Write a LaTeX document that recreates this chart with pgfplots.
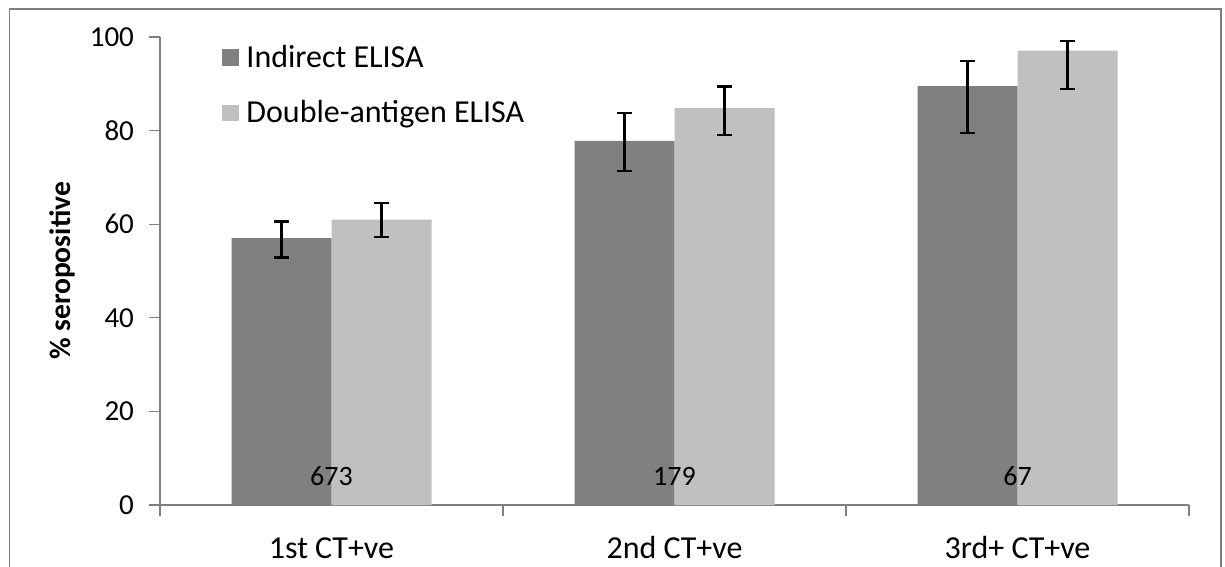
\documentclass[border=0pt]{standalone}
\usepackage{pgfplots}
\usepackage{pgfplotstable}
\pgfplotsset{compat=1.18}
\usepackage{fontspec}
\setmainfont{Carlito}
\definecolor{darkbar}{HTML}{808080}
\definecolor{lightbar}{HTML}{C0C0C0}
\definecolor{framegray}{HTML}{7F7F7F}

\pgfplotstableread{
x y ep em
0 57.0 3.6 4.1
1 77.8 6.0 6.4
2 89.5 5.4 10.0
}\indirect

\pgfplotstableread{
x y ep em
0 61.0 3.5 3.7
1 84.8 4.6 5.7
2 97.1 2.1 8.2
}\double

\begin{document}
\begin{tikzpicture}
\useasboundingbox (0,0) rectangle (612.5pt,283.5pt);
\draw[framegray, line width=0.7pt] (4.6pt,-5pt) rectangle (610.4pt,278.9pt);
\begin{axis}[
  at={(80pt,31pt)}, anchor=south west,
  scale only axis, width=514.5pt, height=234pt,
  xmin=-0.5, xmax=2.5, ymin=0, ymax=100,
  axis x line*=bottom, axis y line*=left,
  axis line style={draw=framegray, line width=0.6pt, -},
  ytick={0,20,40,60,80,100},
  xtick={-0.5,0.5,1.5,2.5}, xticklabels={},
  extra x ticks={0,1,2},
  extra x tick labels={1st CT+ve, 2nd CT+ve, 3rd+ CT+ve},
  extra x tick style={major tick length=0pt},
  tick align=outside, major tick length=5.5pt,
  tick style={draw=framegray, line width=0.6pt},
  /pgf/number format/assume math mode=true,
  yticklabel style={font=\fontsize{14.5}{16}\selectfont, xshift=-4pt},
  xticklabel style={font=\fontsize{16}{18}\selectfont, text height=11.3pt, text depth=3pt, yshift=-12pt},
  ylabel={\textbf{\% seropositive}},
  ylabel style={font=\fontsize{14.8}{16}\selectfont, at={(axis description cs:-0.0952,0.5)}, anchor=center},
  ybar=0pt, bar width=50pt,
  legend style={draw=none, fill=none, at={(0.0603,0.992)}, anchor=north west,
    font=\fontsize{16}{18}\selectfont, row sep=11pt, inner sep=0pt,
    nodes={inner xsep=3.5pt}},
  legend cell align=left,
  legend image code/.code={\fill[#1] (0pt,-4.2pt) rectangle (8.5pt,4.2pt);},
]
\addplot[fill=darkbar, draw=none,
  error bars/.cd, y dir=both, y explicit,
  error bar style={draw=black, solid, line width=1.1pt},
  error mark options={rotate=90, draw=black, solid, mark size=3.6pt, line width=1.2pt}]
  table[x=x, y=y, y error plus=ep, y error minus=em]{\indirect};
\addplot[fill=lightbar, draw=none,
  error bars/.cd, y dir=both, y explicit,
  error bar style={draw=black, solid, line width=1.1pt},
  error mark options={rotate=90, draw=black, solid, mark size=3.6pt, line width=1.2pt}]
  table[x=x, y=y, y error plus=ep, y error minus=em]{\double};
\legend{Indirect ELISA, Double-antigen ELISA}
\node[font=\fontsize{14}{15}\selectfont] at (axis cs:0,6.2) {673};
\node[font=\fontsize{14}{15}\selectfont] at (axis cs:1,6.2) {179};
\node[font=\fontsize{14}{15}\selectfont] at (axis cs:2,6.2) {67};
\end{axis}
\end{tikzpicture}
\end{document}
